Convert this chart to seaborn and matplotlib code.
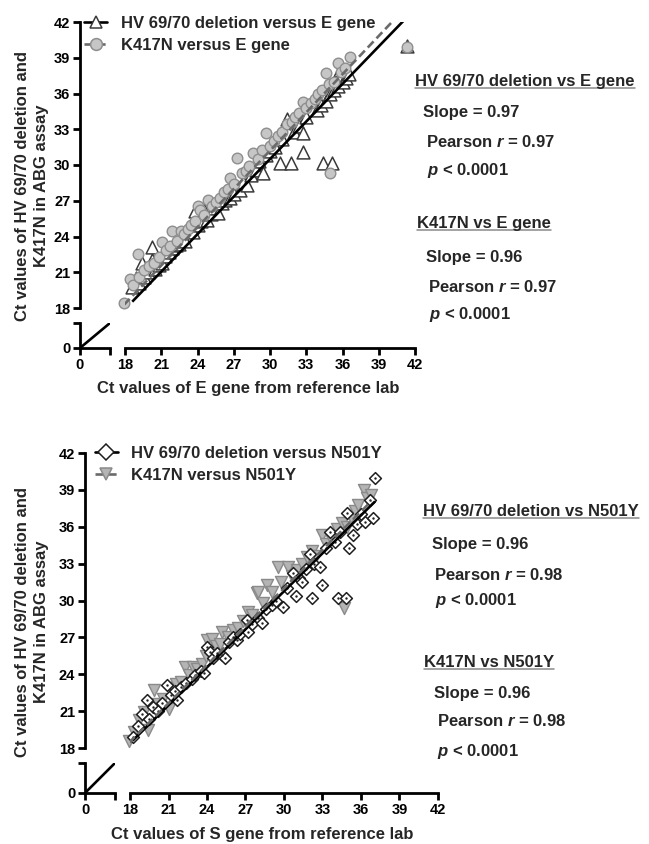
import numpy as np
import pandas as pd
import matplotlib
matplotlib.use("Agg")
import matplotlib.pyplot as plt
import seaborn as sns
from matplotlib.lines import Line2D

# ---------------- data ----------------
# Top panel: versus E gene
hv_e_x = [18.6, 18.9, 19.2, 19.4, 19.6, 19.9, 20.2, 20.2, 20.5, 20.8, 21.1, 21.3, 21.6, 21.9, 22.2,
          22.5, 22.8, 23.0, 23.3, 23.6, 23.8, 24.0, 24.3, 24.5, 24.8, 25.1, 25.4, 25.7, 26.0, 26.3,
          26.7, 27.0, 27.5, 27.8, 28.1, 28.4, 28.8, 29.1, 29.4, 29.7, 30.0, 30.4, 30.8, 31.0, 31.4,
          31.7, 32.0, 32.4, 32.7, 32.7, 33.0, 33.6, 33.9, 34.2, 34.4, 34.6, 35.0, 35.1, 35.3, 35.6,
          35.8, 36.0, 36.3, 36.5, 41.3]
hv_e_y = [19.8, 20.5, 20.1, 21.8, 20.6, 21.0, 22.0, 23.1, 21.3, 21.6, 21.8, 22.4, 22.7, 23.0, 23.3,
          23.4, 23.9, 23.6, 24.6, 24.4, 26.1, 25.0, 25.3, 26.2, 25.4, 25.9, 26.4, 26.0, 26.8, 27.1,
          27.2, 27.6, 27.9, 28.6, 28.3, 29.2, 29.6, 30.3, 29.3, 30.8, 31.2, 31.5, 30.2, 32.2, 33.9,
          30.2, 32.8, 33.3, 31.1, 32.7, 34.0, 35.5, 34.6, 35.0, 30.2, 35.4, 36.0, 30.2, 36.3, 36.6,
          38.0, 37.0, 37.3, 37.6, 40.0]
k_e_x = [17.9, 18.4, 18.7, 19.1, 19.2, 19.6, 20.0, 20.4, 20.8, 21.1, 21.4, 21.7, 21.9, 22.3, 22.6,
         22.9, 23.2, 23.5, 23.8, 24.0, 24.2, 24.5, 24.9, 25.2, 25.5, 25.9, 26.2, 26.5, 26.7, 27.0,
         27.3, 27.7, 28.0, 28.3, 28.6, 29.0, 29.3, 29.7, 30.0, 30.3, 30.7, 31.0, 31.4, 31.8, 32.1,
         32.4, 32.7, 33.0, 33.4, 33.7, 34.0, 34.3, 34.6, 34.9, 35.0, 35.3, 35.6, 35.9, 36.2, 36.6,
         41.3]
k_e_y = [18.4, 20.4, 19.9, 22.5, 20.6, 21.2, 21.5, 21.8, 22.3, 23.5, 22.9, 23.2, 24.5, 23.6, 24.5,
         24.2, 24.6, 25.0, 25.3, 26.6, 26.2, 25.8, 27.1, 26.6, 26.9, 27.2, 27.7, 28.0, 28.9, 28.4,
         30.6, 29.3, 29.5, 29.9, 31.0, 30.5, 31.3, 32.7, 31.6, 32.0, 32.4, 32.8, 33.4, 33.6, 34.0,
         34.4, 35.3, 34.8, 35.2, 35.5, 36.0, 36.3, 37.7, 36.8, 29.3, 37.0, 38.6, 37.8, 38.1, 39.1,
         39.9]

# Bottom panel: versus N501Y
hv_n_x = [18.2, 18.6, 18.9, 19.3, 19.5, 19.8, 20.2, 20.5, 20.9, 21.2, 21.5, 21.7, 22.0, 22.4, 22.8,
          23.1, 23.5, 23.8, 24.0, 24.2, 24.5, 24.8, 25.2, 25.4, 25.7, 26.0, 26.3, 26.6, 27.1, 27.2,
          27.5, 28.0, 28.3, 28.6, 29.1, 29.4, 29.9, 30.2, 30.7, 30.9, 31.2, 31.4, 31.7, 32.0, 32.2,
          32.3, 32.8, 33.0, 33.3, 33.6, 34.0, 34.2, 34.4, 34.8, 34.9, 35.1, 35.4, 35.7, 36.0, 36.3,
          36.7, 36.9, 37.1]
hv_n_y = [18.9, 19.8, 20.8, 21.9, 20.4, 21.3, 21.0, 21.7, 23.1, 22.3, 22.6, 21.9, 23.0, 23.3, 23.6,
          23.9, 24.3, 24.1, 26.2, 25.8, 25.3, 25.7, 25.6, 25.3, 26.6, 27.0, 26.8, 27.3, 28.4, 27.4,
          28.1, 28.6, 28.2, 29.3, 29.6, 30.0, 29.5, 31.0, 32.2, 30.4, 31.8, 31.5, 32.6, 33.8, 30.2,
          33.0, 32.7, 31.3, 34.3, 35.6, 34.8, 30.2, 35.6, 30.2, 37.1, 34.3, 35.3, 36.2, 37.0, 36.4,
          38.2, 36.7, 40.0]
k_n_x = [17.9, 18.3, 18.7, 19.1, 19.4, 19.9, 20.2, 20.6, 21.0, 21.3, 21.6, 22.0, 22.3, 22.6, 22.9,
         23.2, 23.6, 23.9, 24.0, 24.4, 24.7, 25.0, 25.2, 25.6, 26.0, 26.4, 26.8, 27.2, 27.5, 27.9,
         28.0, 28.4, 28.7, 29.1, 29.5, 29.8, 30.3, 30.6, 31.0, 31.4, 31.8, 32.2, 32.5, 33.0, 33.3,
         33.7, 34.1, 34.5, 34.7, 34.9, 35.2, 35.5, 35.8, 36.2, 36.5, 36.8]
k_n_y = [18.6, 19.3, 20.3, 20.9, 19.5, 22.7, 21.6, 22.0, 21.2, 22.9, 23.2, 23.4, 24.6, 23.9, 24.6,
         24.4, 24.8, 25.5, 26.8, 26.9, 26.3, 26.5, 27.4, 27.0, 27.6, 27.8, 28.3, 29.1, 28.8, 30.6,
         30.7, 29.8, 31.3, 30.7, 32.7, 31.5, 32.7, 32.0, 32.5, 33.0, 33.5, 34.0, 33.6, 35.3, 34.6,
         35.0, 35.8, 36.3, 29.4, 36.0, 36.8, 37.3, 37.8, 39.0, 38.3, 38.6]

# fitted lines (slope, intercept) as drawn in the figure
fit_hv_e = (1.05, -1.0)
fit_k_e = (1.07, -0.9)
fit_hv_n = (1.03, -0.15)
fit_k_n = (1.04, -0.2)

axis_ticks = [18, 21, 24, 27, 30, 33, 36, 39, 42]
legend_top = ["HV 69/70 deletion versus E gene", "K417N versus E gene"]
legend_bot = ["HV 69/70 deletion versus N501Y", "K417N versus N501Y"]
xlabel_top = "Ct values of E gene from reference lab"
xlabel_bot = "Ct values of S gene from reference lab"
ylabel = "Ct values of HV 69/70 deletion and\nK417N in ABG assay"
stats_top = [("HV 69/70 deletion vs E gene", "0.97", "0.97"), ("K417N vs E gene", "0.96", "0.97")]
stats_bot = [("HV 69/70 deletion vs N501Y", "0.96", "0.98"), ("K417N vs N501Y", "0.96", "0.98")]

# ---------------- style ----------------
sns.set_theme(style="ticks")
plt.rcParams["font.family"] = ["Liberation Sans", "DejaVu Sans"]
plt.rcParams["font.weight"] = "bold"
plt.rcParams["mathtext.fontset"] = "custom"
plt.rcParams["mathtext.rm"] = "Liberation Sans:bold"
plt.rcParams["mathtext.it"] = "Liberation Sans:italic:bold"
plt.rcParams["mathtext.bf"] = "Liberation Sans:bold"

W, H = 649, 844
fig = plt.figure(figsize=(W / 100, H / 100), dpi=100)
PX = 0.72  # points per pixel


def box(x0, y0, x1, y1):
    return [x0 / W, 1 - y1 / H, (x1 - x0) / W, (y1 - y0) / H]


SPW = 2.0


def style_axis(ax):
    sns.despine(ax=ax)
    for s in ("left", "bottom"):
        ax.spines[s].set_linewidth(SPW)
        ax.spines[s].set_color("black")
    ax.tick_params(length=5, width=SPW, labelsize=10.5, pad=2, colors="black")
    for lab in ax.get_xticklabels() + ax.get_yticklabels():
        lab.set_fontweight("bold")
    ax.patch.set_visible(False)


def panel(main_px, brk_px, out_b, out_l, series, fits, leg_labels, leg_anchor, hl, htp,
          xlab, xlab_pos, ylab_pos, stats, stat_pos):
    ax = fig.add_axes(box(*main_px))
    ax.set_xlim(18, 42)
    ax.set_ylim(18, 42)
    ax.set_xticks(axis_ticks)
    ax.set_yticks(axis_ticks)
    style_axis(ax)
    ax.spines["bottom"].set_position(("outward", out_b * PX))
    ax.spines["left"].set_position(("outward", out_l * PX))
    for lab in ax.get_xticklabels() + ax.get_yticklabels():
        lab.set_fontweight("bold")

    handles = []
    for (xs, ys, kw, dot), (m, b), lkw in zip(series, fits, [
            dict(color="black", lw=1.9), dict(color="#6a6a6a", lw=1.9, dashes=(3.2, 1.6))]):
        sns.scatterplot(x=xs, y=ys, ax=ax, clip_on=False, legend=False, zorder=kw.pop("zorder"), **kw)
        if dot:
            sns.scatterplot(x=xs, y=ys, ax=ax, marker="o", s=3, color="#202020", linewidth=0,
                            clip_on=False, legend=False, zorder=4)
        xa = np.array([min(xs), max(xs)])
        ax.plot(xa, m * xa + b, zorder=6, solid_capstyle="butt", **lkw)
        handles.append(Line2D([0], [0], marker=kw["marker"], markersize=kw.get("lms", 8.5),
                              markerfacecolor=kw["color"], markeredgecolor=kw["edgecolor"],
                              markeredgewidth=1.1, **lkw))
    ax.legend(handles, leg_labels, loc="upper left",
              bbox_to_anchor=(leg_anchor[0] / W, 1 - leg_anchor[1] / H),
              bbox_transform=fig.transFigure, frameon=False, borderpad=0, borderaxespad=0,
              handlelength=hl, handletextpad=htp, labelspacing=0.42,
              prop=dict(size=12, weight="bold"))

    axb = fig.add_axes(box(*brk_px))
    axb.set_xlim(0, 2.5)
    axb.set_ylim(0, 2.5)
    axb.set_xticks([0, 2.5])
    axb.set_xticklabels(["0", ""])
    axb.set_yticks([0, 2.5])
    axb.set_yticklabels(["0", ""])
    style_axis(axb)
    lim = axb.get_xlim()
    axb.plot(lim, lim, color="black", lw=1.9, solid_capstyle="butt")

    fig.text(xlab_pos[0] / W, 1 - xlab_pos[1] / H, xlab, ha="center", va="baseline",
             fontsize=12, fontweight="bold")
    fig.text(ylab_pos[0] / W, 1 - ylab_pos[1] / H, ylabel, ha="center", va="center",
             rotation=90, multialignment="center", fontsize=12, fontweight="bold", linespacing=1.4)

    headers = []
    for (title, slope, r), pos in zip(stats, stat_pos):
        lines = [title, f"Slope = {slope}", f"Pearson $r$ = {r}", r"$p$ < 0.0001"]
        for i, (txt, (x, y)) in enumerate(zip(lines, pos)):
            t = fig.text(x / W, 1 - y / H, txt, ha="left", va="baseline", fontsize=12,
                         fontweight="bold")
            if i == 0:
                headers.append((t, y))
    return headers


def scatter_kw(marker, s, color, edgecolor, lw, z, lms):
    return {"marker": marker, "s": s, "color": color, "edgecolor": edgecolor,
            "linewidth": lw, "zorder": z, "lms": lms}


tri_kw = dict(marker="^", s=85, color="white", edgecolor="#3a3a3a", linewidth=1.1, zorder=2)
circ_kw = dict(marker="o", s=58, color="#c6c6c6", edgecolor="#8e8e8e", linewidth=1.0, zorder=3)
dia_kw = dict(marker="D", s=36, color="white", edgecolor="#1e1e1e", linewidth=1.1, zorder=3)
dtri_kw = dict(marker="v", s=75, color="#b4b4b4", edgecolor="#8a8a8a", linewidth=1.0, zorder=2)

headers = []
headers += panel((125, 22, 415, 308), (80, 323, 110, 348), 40, 45,
                 [(hv_e_x, hv_e_y, dict(tri_kw), False), (k_e_x, k_e_y, dict(circ_kw), False)],
                 [fit_hv_e, fit_k_e], legend_top, (84, 16), 1.4, 0.8,
                 xlabel_top, (248, 393), (32, 186), stats_top,
                 [[(415, 86), (423, 117), (426, 147), (427, 175)],
                  [(417, 228), (426, 262), (428, 292), (429, 319)]])
headers += panel((130, 453, 438, 748), (85, 763, 115, 793), 45, 45,
                 [(hv_n_x, hv_n_y, dict(dia_kw), True), (k_n_x, k_n_y, dict(dtri_kw), False)],
                 [fit_hv_n, fit_k_n], legend_bot, (95, 446), 1.35, 0.8,
                 xlabel_bot, (262, 839), (32, 622), stats_bot,
                 [[(423, 516), (432, 549), (434, 580), (435, 605)],
                  [(424, 667), (434, 698), (437, 726), (437, 756)]])

fig.canvas.draw()
r = fig.canvas.get_renderer()
for t, y in headers:
    bb = t.get_window_extent(r)
    yy = 1 - (y + 2) / H
    fig.add_artist(Line2D([bb.x0 / W, bb.x1 / W], [yy, yy], transform=fig.transFigure,
                          color="#8a8a8a", lw=1.1))

fig.savefig("out.png", dpi=100)
